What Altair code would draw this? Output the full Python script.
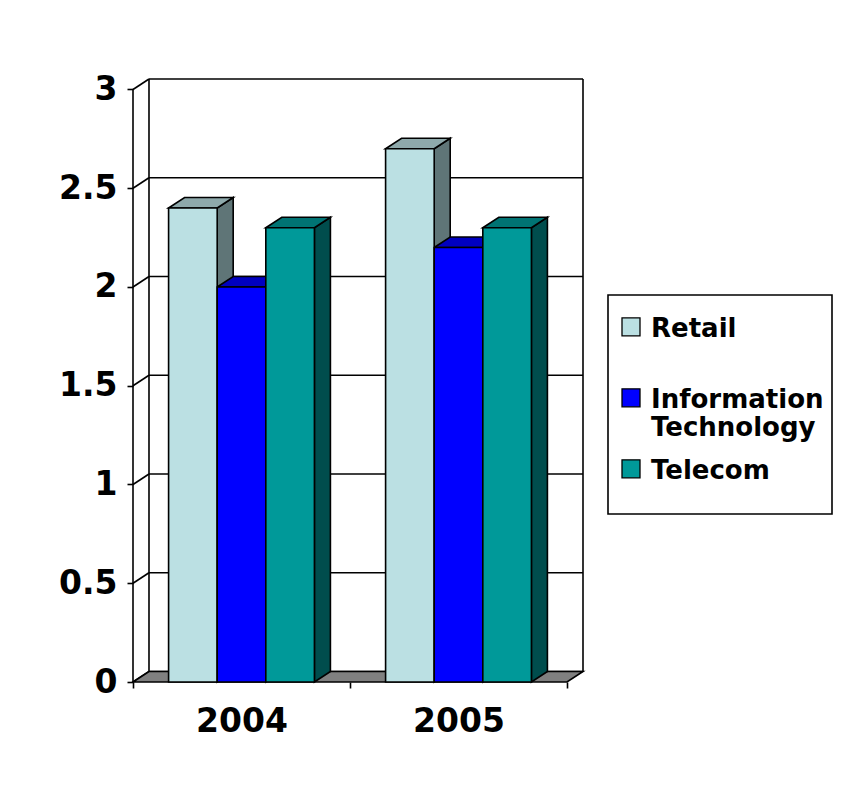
import altair as alt
import pandas as pd

# ---- data ----
years = ["2004", "2005"]
series = ["Retail", "Information Technology", "Telecom"]
retail = [2.4, 2.7]
info_tech = [2.0, 2.2]
telecom = [2.3, 2.3]
y_ticks = [0, 0.5, 1, 1.5, 2, 2.5, 3]

front_colors = ["#BBE0E3", "#0000FF", "#009999"]
top_colors = ["#8EA9AB", "#0000C0", "#007373"]
side_colors = ["#5F7577", "#000080", "#004D4D"]

# ---- 3D geometry (in data units) ----
DX = 0.0737   # depth offset along x (category units)
DY = 0.053    # depth offset along y (value units)
BW = 0.224    # bar width (category units)
PAD = (1 - 3 * BW) / 2
NCAT = len(years)
YMAX = max(y_ticks)
LW = 1.6
FONT = "DejaVu Sans"

values = [retail, info_tech, telecom]

front_rows, side_rows, top_rows = [], [], []
for gi, yr in enumerate(years):
    for si, s in enumerate(series):
        v = values[si][gi]
        x0 = gi + PAD + si * BW
        x1 = x0 + BW
        fid = f"{yr}-{s}"
        front_rows.append(dict(year=yr, series=s, value=v, base=0.0, x0=x0, x1=x1))
        side_rows += [
            dict(fid=fid, x=x1, top=v, bot=0.0, fc=side_colors[si]),
            dict(fid=fid, x=x1 + DX, top=v + DY, bot=DY, fc=side_colors[si]),
        ]
        top_rows += [
            dict(fid=fid, x=x0, top=v, bot=v, fc=top_colors[si]),
            dict(fid=fid, x=x0 + DX, top=v + DY, bot=v, fc=top_colors[si]),
            dict(fid=fid, x=x1, top=v + DY, bot=v, fc=top_colors[si]),
            dict(fid=fid, x=x1 + DX, top=v + DY, bot=v + DY, fc=top_colors[si]),
        ]

front_df = pd.DataFrame(front_rows)
side_df = pd.DataFrame(side_rows)
top_df = pd.DataFrame(top_rows)
floor_df = pd.DataFrame([
    dict(fid="floor", x=0.0, top=0.0, bot=0.0, fc="#808080"),
    dict(fid="floor", x=DX, top=DY, bot=0.0, fc="#808080"),
    dict(fid="floor", x=float(NCAT), top=DY, bot=0.0, fc="#808080"),
    dict(fid="floor", x=NCAT + DX, top=DY, bot=DY, fc="#808080"),
])

rule_rows = []
for v in y_ticks:
    rule_rows.append(dict(rx=DX, ry=v + DY, rx2=NCAT + DX, ry2=v + DY))  # back-wall gridline
    rule_rows.append(dict(rx=0.0, ry=v, rx2=DX, ry2=v + DY))             # side-wall connector
rule_rows.append(dict(rx=0.0, ry=0.0, rx2=0.0, ry2=YMAX))                 # front value axis
rule_rows.append(dict(rx=DX, ry=DY, rx2=DX, ry2=YMAX + DY))               # back-left edge
rule_rows.append(dict(rx=NCAT + DX, ry=DY, rx2=NCAT + DX, ry2=YMAX + DY))  # back-right edge
rule_df = pd.DataFrame(rule_rows)

xscale = alt.Scale(domain=[0, NCAT + DX], nice=False, zero=False)
yscale = alt.Scale(domain=[0, YMAX + DY], nice=False, zero=True)

label_expr = " : ".join(
    [f"datum.value == {gi + 0.5} ? '{yr}'" for gi, yr in enumerate(years)]
) + " : ''"

x_axis = alt.Axis(
    values=[i * 0.5 for i in range(2 * NCAT + 1)],
    labelExpr=label_expr,
    tickOpacity={"condition": {"test": "datum.value % 1 != 0", "value": 0}, "value": 1},
    domain=False, grid=False, title=None,
    tickSize=6, tickWidth=LW, tickColor="black",
    labelFont=FONT, labelFontSize=33, labelFontWeight="bold", labelColor="black",
    labelPadding=17, labelFlush=False, labelOverlap=False,
)
y_axis = alt.Axis(
    values=y_ticks, format="~g",
    domain=False, grid=False, title=None,
    tickSize=6, tickWidth=LW, tickColor="black",
    labelFont=FONT, labelFontSize=33, labelFontWeight="bold", labelColor="black",
    labelPadding=10, labelOverlap=False,
)

rules = alt.Chart(rule_df).mark_rule(color="black", strokeWidth=LW).encode(
    x=alt.X("rx:Q", scale=xscale, axis=x_axis),
    y=alt.Y("ry:Q", scale=yscale, axis=y_axis),
    x2="rx2:Q",
    y2="ry2:Q",
)


def faces(df):
    return alt.Chart(df).mark_area(
        stroke="black", strokeWidth=LW, interpolate="linear", opacity=1, strokeJoin="miter"
    ).encode(
        x=alt.X("x:Q", scale=xscale, axis=x_axis),
        y=alt.Y("top:Q", scale=yscale, axis=y_axis, stack=None),
        y2="bot:Q",
        fill=alt.Fill("fc:N", scale=None),
        detail="fid:N",
    )


floor = faces(floor_df)
sides = faces(side_df)
tops = faces(top_df)

sym_shift = 1.2
fronts = alt.Chart(front_df).mark_rect(stroke="black", strokeWidth=LW, opacity=1).encode(
    x=alt.X("x0:Q", scale=xscale, axis=x_axis),
    x2="x1:Q",
    y=alt.Y("value:Q", scale=yscale, axis=y_axis),
    y2="base:Q",
    color=alt.Color(
        "series:N",
        scale=alt.Scale(domain=series, range=front_colors),
        legend=alt.Legend(
            orient="none", legendX=475, legendY=216,
            title=" ", titleOrient="bottom", titleFontSize=18, titlePadding=4,
            strokeColor="black", fillColor="white", padding=8,
            symbolType=f"M-1,{-1 + sym_shift}H1V{1 + sym_shift}H-1Z",
            symbolSize=324, symbolStrokeColor="black", symbolStrokeWidth=1.3,
            symbolOffset=2, labelOffset=7,
            labelFont=FONT, labelFontSize=26, labelFontWeight="bold", labelColor="black",
            labelBaseline="top", labelLimit=400,
            labelExpr="split(datum.label, ' ')",
            gridAlign="all", rowPadding=4,
        ),
    ),
)

chart = alt.layer(rules, floor, sides, tops, fronts).properties(
    width=450, height=603,
    padding={"left": 50, "top": 65, "right": 5, "bottom": 5},
    background="white",
).configure_view(stroke=None).configure_legend(strokeWidth=LW)

chart.save("out.html", embed_options={"renderer": "svg", "actions": False})
